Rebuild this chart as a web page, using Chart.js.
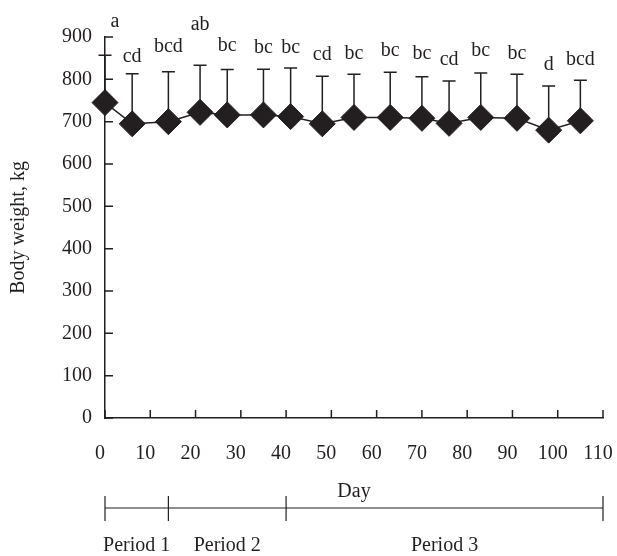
<!DOCTYPE html>
<html>
<head>
<meta charset="utf-8">
<script src="https://cdn.jsdelivr.net/npm/chart.js@4"></script>
<style>
  html, body { margin: 0; padding: 0; background: #fff; }
  #wrap { width: 617px; height: 556px; }
</style>
</head>
<body>
<div id="wrap"><canvas id="bwChart" width="617" height="556"></canvas></div>
<script>
// --- data ---
const days    = [0, 6, 14, 21, 27, 35, 41, 48, 55, 63, 70, 76, 83, 91, 98, 105];
const meanBW  = [745, 695, 700, 722, 716, 716, 712, 695, 710, 710, 708, 696, 710, 708, 680, 702];
const sdBW    = [112, 118, 118, 111, 107, 108, 115, 112, 102, 107, 98, 100, 105, 104, 104, 96];
const letters = ['a', 'cd', 'bcd', 'ab', 'bc', 'bc', 'bc', 'cd', 'bc', 'bc', 'bc', 'cd', 'bc', 'bc', 'd', 'bcd'];
const letterY = [936, 853, 877, 928, 879, 875, 875, 857, 861, 867, 861, 846, 867, 861, 834, 846];

// period bar under the x axis
const periodBreaks = [0, 14, 40, 110];
const periodNames  = ['Period 1', 'Period 2', 'Period 3'];

const xTicks = [0, 10, 20, 30, 40, 50, 60, 70, 80, 90, 100, 110];
const yTicks = [0, 100, 200, 300, 400, 500, 600, 700, 800, 900];

const ink = '#231f20';
const serif = "'Liberation Serif', 'Times New Roman', serif";
const fontSize = 20;

// error bars (upper side only) + letters
const errorBars = {
    id: 'errorBars',
    beforeDatasetsDraw(chart) {
        const { ctx, scales: { x, y } } = chart;
        ctx.save();
        ctx.strokeStyle = ink;
        ctx.lineWidth = 1.5;
        days.forEach((d, i) => {
            const px = x.getPixelForValue(d);
            const y0 = y.getPixelForValue(meanBW[i]);
            const y1 = y.getPixelForValue(meanBW[i] + sdBW[i]);
            ctx.beginPath();
            ctx.moveTo(px, y0);
            ctx.lineTo(px, y1);
            ctx.moveTo(px - 6.5, y1);
            ctx.lineTo(px + 6.5, y1);
            ctx.stroke();
        });
        ctx.restore();
    },
    afterDraw(chart) {
        const { ctx, scales: { x, y }, chartArea } = chart;
        ctx.save();
        ctx.fillStyle = ink;
        ctx.font = fontSize + 'px ' + serif;
        ctx.textAlign = 'center';
        ctx.textBaseline = 'middle';
        letters.forEach((t, i) => {
            const dx = i === 0 ? 10 : 0;
            ctx.fillText(t, x.getPixelForValue(days[i]) + dx, y.getPixelForValue(letterY[i]));
        });

        // inner tick marks
        ctx.strokeStyle = ink;
        ctx.lineWidth = 1.5;
        ctx.beginPath();
        xTicks.forEach(v => {
            const px = x.getPixelForValue(v);
            ctx.moveTo(px, chartArea.bottom);
            ctx.lineTo(px, chartArea.bottom - 8);
        });
        yTicks.forEach(v => {
            const py = y.getPixelForValue(v);
            ctx.moveTo(chartArea.left, py);
            ctx.lineTo(chartArea.left + 8, py);
        });
        ctx.stroke();

        // period bar
        const barY = 508;
        ctx.lineWidth = 1.2;
        ctx.beginPath();
        ctx.moveTo(x.getPixelForValue(periodBreaks[0]), barY);
        ctx.lineTo(x.getPixelForValue(periodBreaks[periodBreaks.length - 1]), barY);
        periodBreaks.forEach(b => {
            const px = x.getPixelForValue(b);
            ctx.moveTo(px, barY - 12);
            ctx.lineTo(px, barY + 13);
        });
        ctx.stroke();
        periodNames.forEach((n, i) => {
            const mid = (x.getPixelForValue(periodBreaks[i]) + x.getPixelForValue(periodBreaks[i + 1])) / 2;
            ctx.fillText(n, mid, 546);
        });
        ctx.restore();
    }
};

new Chart(document.getElementById('bwChart'), {
    type: 'scatter',
    data: {
        datasets: [{
            data: days.map((d, i) => ({ x: d, y: meanBW[i] })),
            showLine: true,
            borderColor: ink,
            borderWidth: 1.5,
            pointStyle: 'rectRot',
            pointRadius: 13,
            pointHoverRadius: 13,
            pointBackgroundColor: ink,
            pointBorderColor: ink,
            pointBorderWidth: 1,
            clip: false
        }]
    },
    options: {
        responsive: false,
        animation: false,
        events: [],
        layout: { padding: { top: 37, right: 9.5, bottom: 52, left: 0 } },
        plugins: {
            legend: { display: false },
            tooltip: { enabled: false }
        },
        scales: {
            x: {
                type: 'linear',
                min: 0,
                max: 110,
                afterBuildTicks: s => { s.ticks = xTicks.map(v => ({ value: v })); },
                afterFit: s => { s.height = 86; s.paddingLeft = 0; s.paddingRight = 0; },
                grid: { display: false, drawTicks: false },
                border: { display: true, color: ink, width: 1.5 },
                ticks: {
                    color: ink,
                    font: { family: serif, size: fontSize },
                    padding: 24,
                    labelOffset: -5,
                    maxRotation: 0
                },
                title: {
                    display: true,
                    text: 'Day',
                    color: ink,
                    font: { family: serif, size: fontSize },
                    padding: 0
                }
            },
            y: {
                min: 0,
                max: 900,
                afterBuildTicks: s => { s.ticks = yTicks.map(v => ({ value: v })); },
                afterFit: s => { s.width = 105; s.paddingTop = 0; s.paddingBottom = 0; },
                grid: { display: false, drawTicks: false },
                border: { display: true, color: ink, width: 1.5 },
                ticks: {
                    color: ink,
                    font: { family: serif, size: fontSize },
                    padding: 13
                },
                title: {
                    display: true,
                    text: 'Body weight, kg',
                    color: ink,
                    font: { family: serif, size: fontSize },
                    padding: { top: 7, bottom: 0 }
                }
            }
        }
    },
    plugins: [errorBars]
});
</script>
</body>
</html>
